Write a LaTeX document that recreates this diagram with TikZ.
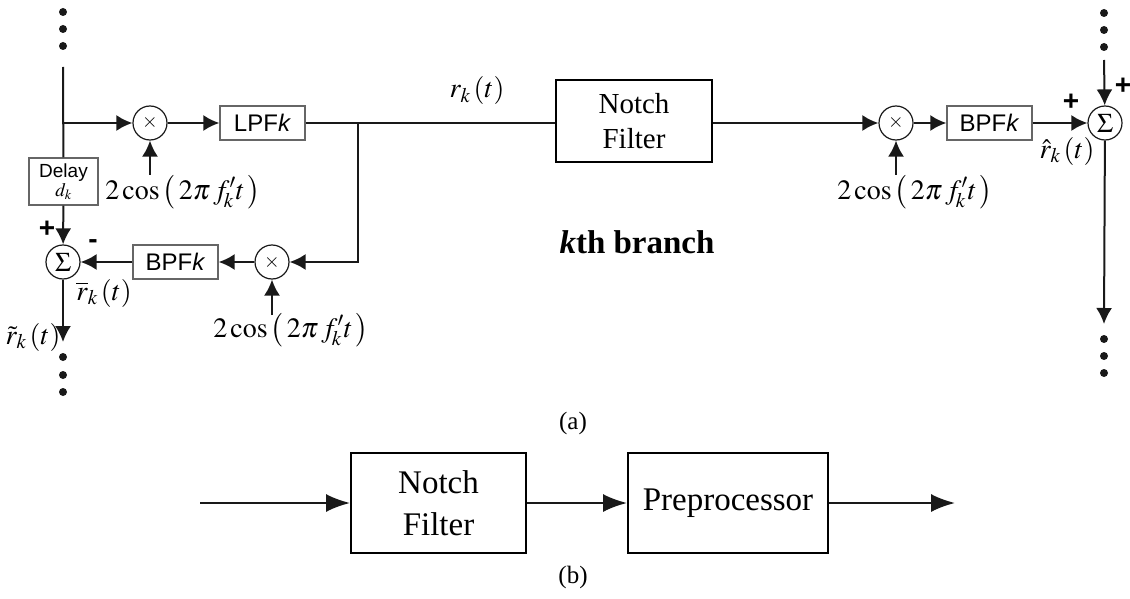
\documentclass[tikz,border=0pt]{standalone}
\usepackage{mathptmx}
\usepackage{fontspec}
\setmainfont{Liberation Serif}
\setsansfont{Liberation Sans}
\usetikzlibrary{arrows.meta}
\newcommand{\mixlabel}{$2\cos\,\bigl(\,2\pi\,f'_{\!k}t\,\bigr)$}
\tikzset{
  wire/.style={line width=2pt,black!90},
  flow/.style={wire,-{Latex[length=16pt,width=16pt]}},
  bigflow/.style={wire,-{Latex[length=24pt,width=18pt]}},
  smallbox/.style={draw=black!60,line width=1.3pt,inner sep=0pt,font=\sffamily\fontsize{24}{26}\selectfont},
  bigbox/.style={draw=black,line width=2pt,inner sep=0pt,align=center,font=\fontsize{29}{35}\selectfont},
  junct/.style={draw=black!90,circle,line width=1.2pt,minimum size=34pt,inner sep=0pt,fill=white,font=\fontsize{20}{22}\selectfont},
  blob/.style={fill=black!90,circle,minimum size=8pt,inner sep=0pt},
  lab/.style={inner sep=0pt,font=\fontsize{28}{30}\selectfont},
  sign/.style={inner sep=0pt,font=\sffamily\bfseries\fontsize{28}{30}\selectfont}
}
\begin{document}
\begin{tikzpicture}[x=1pt,y=-1pt]
  \useasboundingbox (0,0) rectangle (1130,599);
  \draw
    (63,12) node[blob] (dotla){}
    (63,29) node[blob] (dotlb){}
    (63,46) node[blob] (dotlc){}
    (63,357) node[blob] (dotld){}
    (63,375) node[blob] (dotle){}
    (63,392) node[blob] (dotlf){}
    (1104,13) node[blob] (dotra){}
    (1104,30) node[blob] (dotrb){}
    (1104,47) node[blob] (dotrc){}
    (1104,339) node[blob] (dotrd){}
    (1104,356) node[blob] (dotre){}
    (1104,373) node[blob] (dotrf){};
  \draw
    (150,123) node[junct] (mixa){$\times$}
    (262.5,123) node[smallbox,minimum width=85pt,minimum height=34pt] (lpf){LPF\textit{k}}
    (634,121) node[bigbox,minimum width=156pt,minimum height=82pt] (notcha){Notch\\Filter}
    (896,123) node[junct] (mixb){$\times$}
    (989.5,123) node[smallbox,minimum width=85pt,minimum height=34pt] (bpfb){BPF\textit{k}}
    (1105,123) node[junct,font=\fontsize{27}{29}\selectfont] (sumb){$\Sigma$}
    (63.5,181.5) node[smallbox,minimum width=69pt,minimum height=47pt,align=center,font=\sffamily\fontsize{19}{20}\selectfont] (delay){Delay\\[-1pt]$d_k$}
    (63,262) node[junct,font=\fontsize{27}{29}\selectfont] (suma){$\Sigma$}
    (175.5,262) node[smallbox,minimum width=85pt,minimum height=34pt] (bpfa){BPF\textit{k}}
    (272,262) node[junct] (mixc){$\times$}
    (438.5,503) node[bigbox,minimum width=175pt,minimum height=100pt,font=\fontsize{33}{42}\selectfont] (notchb){Notch\\Filter}
    (728,503) node[bigbox,minimum width=200pt,minimum height=100pt,font=\fontsize{33}{42}\selectfont] (prep){Preprocessor};
  \draw
    (183,192) node[lab] (cosa){\mixlabel}
    (291,330) node[lab] (cosc){\mixlabel}
    (915,192) node[lab] (cosb){\mixlabel}
    (477,91) node[lab] (rk){$r_k\,(t)$}
    (104,293) node[lab] (rbar){$\overline{r}_k\,(t)$}
    (33,337) node[lab] (rtil){$\tilde{r}_k\,(t)$}
    (1067,151) node[lab] (rhat){$\hat{r}_k\,(t)$}
    (637,242) node[inner sep=0pt,font=\bfseries\fontsize{33}{35}\selectfont] (branch){\textit{k}th branch}
    (573,423) node[inner sep=0pt,font=\fontsize{25}{27}\selectfont] (capa){(a)}
    (573,577) node[inner sep=0pt,font=\fontsize{25}{27}\selectfont] (capb){(b)}
    (47,229) node[sign] (plusa){+}
    (93,244) node[sign] (minusa){-}
    (1071,102) node[sign] (plusb){+}
    (1123,86) node[sign] (plusc){+};
  \coordinate (top) at (63,67);
  \coordinate (tapa) at (63,123);
  \coordinate (tapb) at (358,123);
  \coordinate (turn) at (358,262);
  \coordinate (downa) at (63,342);
  \coordinate (inb) at (1104,60);
  \coordinate (downb) at (1104,324);
  \coordinate (inc) at (200,503);
  \coordinate (outc) at (955,503);
  \coordinate (feeda) at (150,175);
  \coordinate (feedb) at (896,175);
  \coordinate (feedc) at (272,315);
  \begin{scope}[wire]
    \draw (top) to (delay);
    \draw (lpf.east) to (notcha.west |- lpf.east);
  \end{scope}
  \begin{scope}[flow]
    \draw (tapa) to (mixa);
    \draw (mixa) to (lpf);
    \draw (feeda) to (mixa);
    \draw (notcha.east |- mixb) to (mixb);
    \draw (mixb) to (bpfb);
    \draw (feedb) to (mixb);
    \draw (bpfb) to (sumb);
    \draw (inb) to (sumb);
    \draw (sumb) to (downb);
    \draw (delay) to (suma);
    \draw (tapb) to (turn) to (mixc);
    \draw (mixc) to (bpfa);
    \draw (feedc) to (mixc);
    \draw (bpfa) to (suma);
    \draw (suma) to (downa);
  \end{scope}
  \begin{scope}[bigflow]
    \draw (inc) to (notchb);
    \draw (notchb) to (prep);
    \draw (prep) to (outc);
  \end{scope}
\end{tikzpicture}
\end{document}
